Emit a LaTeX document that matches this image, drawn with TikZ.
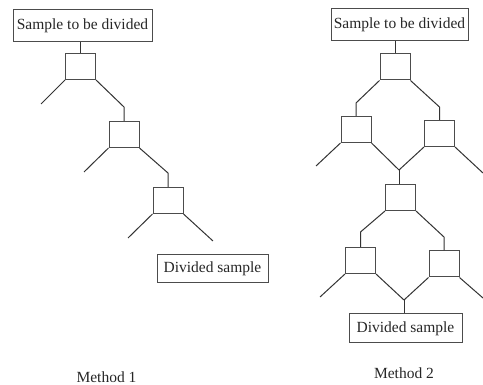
\documentclass[tikz,border=0pt]{standalone}
\usepackage{fontspec}
\setmainfont{Liberation Serif}
\begin{document}
\begin{tikzpicture}[x=1pt,y=-1pt,
  every node/.style={font=\fontsize{15.5}{17}\selectfont, text=black!85},
  sq/.style={draw=black!70, line width=1pt, minimum width=30pt, minimum height=26pt, inner sep=0pt},
  tbox/.style={draw=black!70, line width=1pt, inner sep=0pt},
  ln/.style={draw=black!80, line width=1pt}]
\useasboundingbox (0,0) rectangle (483,385);
% Method 1
\node[tbox, minimum width=139pt, minimum height=32pt] (T1) at (82.5,26) {Sample to be divided};
\node[sq] (m1) at (80.5,66.5) {};
\node[sq] (m2) at (124,134.5) {};
\node[sq] (m3) at (168,200.5) {};
\node[tbox, minimum width=111pt, minimum height=28pt] (D1) at (212.5,269) {Divided sample};
\coordinate (e1) at (41,104);
\coordinate (k1) at (124,107);
\coordinate (e2) at (84,172);
\coordinate (k2) at (168,173);
\coordinate (e3) at (128,238);
\coordinate (e4) at (213,241);
\draw[ln] (T1.south -| m1.north) -- (m1.north);
\draw[ln] (m1.south west) -- (e1);
\draw[ln] (m1.south east) -- (k1) -- (m2.north);
\draw[ln] (m2.south west) -- (e2);
\draw[ln] (m2.south east) -- (k2) -- (m3.north);
\draw[ln] (m3.south west) -- (e3);
\draw[ln] (m3.south east) -- (e4);
\node (L1) at (106.5,377) {Method 1};
% Method 2
\node[tbox, minimum width=137pt, minimum height=32pt] (T2) at (399.5,25) {Sample to be divided};
\node[sq] (A) at (395,67) {};
\node[sq] (B) at (356,129.5) {};
\node[sq] (C) at (439.5,133.5) {};
\node[sq] (D) at (400.5,197.5) {};
\node[sq] (E) at (360.5,260.5) {};
\node[sq] (F) at (444,264) {};
\node[tbox, minimum width=113pt, minimum height=29pt] (D2) at (405.5,328.5) {Divided sample};
\coordinate (kA1) at (356,103);
\coordinate (kA2) at (439.5,107);
\coordinate (fB) at (316,166);
\coordinate (J1) at (399,170);
\coordinate (fC) at (483,173);
\coordinate (kD1) at (360.5,232);
\coordinate (kD2) at (444,237);
\coordinate (fE) at (320,297);
\coordinate (J2) at (404,300);
\coordinate (fF) at (483,298);
\draw[ln] (T2.south -| A.north) -- (A.north);
\draw[ln] (A.south west) -- (kA1) -- (B.north);
\draw[ln] (A.south east) -- (kA2) -- (C.north);
\draw[ln] (B.south west) -- (fB);
\draw[ln] (B.south east) -- (J1);
\draw[ln] (C.south west) -- (J1);
\draw[ln] (C.south east) -- (fC);
\draw[ln] (J1) -- (J1 |- D.north);
\draw[ln] (D.south west) -- (kD1) -- (E.north);
\draw[ln] (D.south east) -- (kD2) -- (F.north);
\draw[ln] (E.south west) -- (fE);
\draw[ln] (E.south east) -- (J2);
\draw[ln] (F.south west) -- (J2);
\draw[ln] (F.south east) -- (fF);
\draw[ln] (J2) -- (J2 |- D2.north);
\node (L2) at (404,373) {Method 2};
\end{tikzpicture}
\end{document}
